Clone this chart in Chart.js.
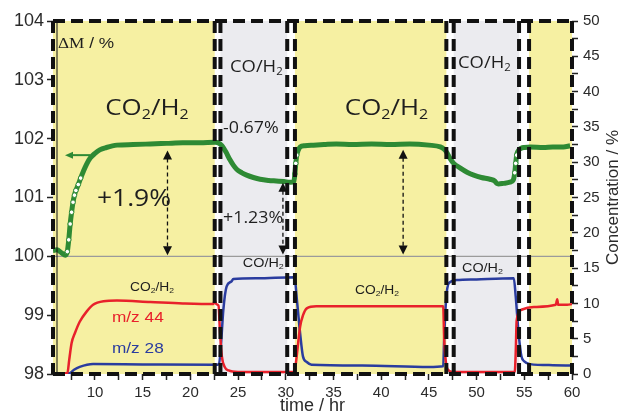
<!DOCTYPE html>
<html>
<head>
<meta charset="utf-8">
<script src="https://cdn.jsdelivr.net/npm/chart.js@4.4.1/dist/chart.umd.min.js"></script>
<style>
  html, body { margin: 0; padding: 0; background: #ffffff; }
  canvas { display: block; }
</style>
</head>
<body>
<canvas id="c" width="622" height="414"></canvas>
<script>
// Mass change ΔM (%) versus time (hr), left axis
const massTime = [5.6, 6.0, 6.5, 6.9, 7.1, 7.25, 7.4, 7.55, 7.7, 7.85, 8.0, 8.25, 8.5, 8.8, 9.1, 9.5, 10.0, 10.5, 11.2, 12.3, 14.0, 15.8, 17.5, 19.2, 21.0, 22.6,
  22.9, 23.3, 23.7, 24.15, 24.5, 24.85, 25.4, 25.9, 26.6, 27.3, 28.2, 29.0, 29.8, 30.5, 30.85, 30.95, 31.05, 31.15, 31.3, 31.5, 32.0, 32.9, 34.0, 35.3,
  37.0, 39.0, 41.0, 43.0, 45.0, 46.2, 46.6, 46.9, 47.2, 47.6, 48.3, 49.0, 49.7, 50.5, 51.4, 51.9, 52.1, 52.3, 52.8, 53.5, 53.85, 54.0, 54.1, 54.2,
  54.35, 54.5, 54.7, 55.0, 55.6, 57.0, 58.0, 59.1, 59.8];
const massValue = [100.10, 100.11, 100.06, 100.02, 100.08, 100.28, 100.55, 100.75, 100.92, 101.04, 101.12, 101.22, 101.33, 101.45, 101.56, 101.67, 101.75, 101.81, 101.85, 101.89, 101.90, 101.91, 101.92, 101.93, 101.93, 101.94,
  101.93, 101.88, 101.78, 101.64, 101.55, 101.48, 101.42, 101.38, 101.34, 101.31, 101.29, 101.28, 101.27, 101.26, 101.27, 101.40, 101.58, 101.72, 101.80, 101.86, 101.88, 101.89, 101.90, 101.91,
  101.90, 101.91, 101.90, 101.91, 101.89, 101.86, 101.82, 101.76, 101.67, 101.58, 101.50, 101.43, 101.38, 101.34, 101.31, 101.28, 101.24, 101.23, 101.24, 101.26, 101.30, 101.42, 101.58, 101.72,
  101.79, 101.82, 101.84, 101.85, 101.86, 101.85, 101.86, 101.86, 101.88];

// m/z 44 signal as concentration (%), right axis
const co2Time = [5.6, 7.1, 7.3, 7.55, 7.9, 8.4, 9.1, 9.8, 10.9, 12.3, 15.8, 19.2, 22.4, 22.55, 22.7, 22.95, 23.1, 23.3, 23.6, 24.0, 25.0, 30.9,
  31.1, 31.5, 31.8, 32.2, 33.2, 40.0, 46.5, 46.6, 46.8, 47.0, 47.5, 54.0, 54.1, 54.2, 54.7, 56.0, 58.3, 58.45, 58.55, 59.5, 60.0];
const co2Value = [0.1, 0.1, 2.0, 4.4, 5.8, 7.4, 8.8, 9.8, 10.3, 10.4, 10.2, 10.0, 9.9, 10.5, 9.9, 9.7, 6.0, 2.5, 1.0, 0.5, 0.3, 0.3,
  2.0, 6.7, 8.3, 9.3, 9.6, 9.6, 9.6, 5.0, 1.5, 0.6, 0.3, 0.3, 3.0, 7.6, 9.1, 9.5, 9.8, 10.6, 9.8, 9.8, 9.9];

// m/z 28 signal as concentration (%), right axis
const coTime = [5.6, 7.3, 7.8, 8.4, 9.8, 15.0, 22.6, 23.0, 23.2, 23.45, 23.8, 24.3, 24.5, 27.0, 30.9, 31.2, 31.5, 31.8, 32.2, 32.7,
  38.0, 45.0, 46.5, 46.6, 46.8, 47.1, 47.9, 50.0, 53.9, 54.1, 54.4, 54.7, 55.0, 55.6, 58.0, 60.0];
const coValue = [0.1, 0.1, 0.6, 1.0, 1.4, 1.35, 1.3, 1.4, 4.0, 9.0, 12.4, 13.1, 13.45, 13.55, 13.7, 10.0, 5.8, 2.5, 1.7, 1.3,
  1.2, 1.0, 1.1, 5.0, 10.5, 12.9, 13.3, 13.4, 13.55, 11.0, 5.8, 2.5, 1.8, 1.4, 1.25, 1.2];

// Gas feed periods and the switch times between them
const bandStart = [5.6, 23.15, 30.96, 47.6, 55.5];
const bandEnd = [22.55, 30.15, 46.83, 54.45, 60];
const bandGas = ['CO2', 'CO', 'CO2', 'CO', 'CO2'];
const switchTimes = [22.55, 23.15, 30.15, 30.96, 46.83, 47.6, 54.45, 55.5];

// Tick labels
const timeLabels = [10, 15, 20, 25, 30, 35, 40, 45, 50, 55, 60];
const massLabels = [98, 99, 100, 101, 102, 103, 104];
const concLabels = [0, 5, 10, 15, 20, 25, 30, 35, 40, 45, 50];

const pts = (xs, ys) => xs.map((x, i) => ({ x: x, y: ys[i] }));

const GREEN = '#2e8a34';
const RED = '#e8212b';
const BLUE = '#2a3c9f';
const TEXT = '#1e1e1e';
const SX = 1.15; // horizontal widening of the annotation lettering

// Annotation texts, positioned in data units (time, ΔM)
const notes = [
  { t: 6.12, v: 103.54, size: 15, align: 'left', color: TEXT, parts: [['ΔM', 0, 'Liberation Serif'], [' / %', 0, 'Liberation Sans']] },
  { t: 15.45, v: 102.40, size: 22.5, align: 'center', color: TEXT, fam: 'Open Sans', parts: [['CO'], ['2', 1], ['/H'], ['2', 1]] },
  { t: 40.56, v: 102.40, size: 22.5, align: 'center', color: TEXT, fam: 'Open Sans', parts: [['CO'], ['2', 1], ['/H'], ['2', 1]] },
  { t: 24.15, v: 103.13, size: 16, align: 'left', color: TEXT, fam: 'Open Sans', parts: [['CO/H'], ['2', 1]] },
  { t: 48.05, v: 103.20, size: 16, align: 'left', color: TEXT, fam: 'Open Sans', parts: [['CO/H'], ['2', 1]] },
  { t: 23.42, v: 102.10, size: 15.5, align: 'left', color: TEXT, fam: 'Open Sans', parts: [['-0.67%']] },
  { t: 10.2, v: 100.855, size: 23, align: 'left', color: TEXT, fam: 'Open Sans', parts: [['+1.9%']] },
  { t: 23.42, v: 100.57, size: 15.5, align: 'left', color: TEXT, fam: 'Open Sans', parts: [['+1.23%']] },
  { t: 13.67, v: 99.41, size: 12, align: 'left', color: TEXT, fam: 'Liberation Sans', parts: [['CO'], ['2', 1], ['/H'], ['2', 1]] },
  { t: 37.25, v: 99.36, size: 12, align: 'left', color: TEXT, fam: 'Liberation Sans', parts: [['CO'], ['2', 1], ['/H'], ['2', 1]] },
  { t: 25.5, v: 99.82, size: 12.5, align: 'left', color: TEXT, fam: 'Liberation Sans', parts: [['CO/H'], ['2', 1]] },
  { t: 48.47, v: 99.74, size: 12.5, align: 'left', color: TEXT, fam: 'Liberation Sans', parts: [['CO/H'], ['2', 1]] },
  { t: 11.78, v: 98.89, size: 15, align: 'left', color: RED, fam: 'Liberation Sans', parts: [['m/z 44']] },
  { t: 11.78, v: 98.35, size: 15, align: 'left', color: BLUE, fam: 'Liberation Sans', parts: [['m/z 28']] }
];

// Double-headed dashed arrows marking the mass changes
const arrows = [
  { t: 17.6, top: 101.80, bottom: 100.02 },
  { t: 29.7, top: 101.25, bottom: 100.03 },
  { t: 42.3, top: 101.81, bottom: 100.03 }
];
// Arrow pointing the mass curve to its (left) axis
const axisPointer = { from: 9.48, to: 6.86, v: 101.72 };

function drawRich(ctx, note, x, y) {
  ctx.save();
  ctx.translate(x, y);
  ctx.scale(SX, 1);
  ctx.fillStyle = note.color;
  ctx.textBaseline = 'alphabetic';
  ctx.textAlign = 'left';
  const fontOf = p => {
    const fam = p[2] || note.fam;
    const s = p[1] ? note.size * 0.62 : note.size;
    return s + 'px "' + fam + '"';
  };
  const widths = note.parts.map(p => { ctx.font = fontOf(p); return ctx.measureText(p[0]).width; });
  const total = widths.reduce((a, b) => a + b, 0);
  let cx = note.align === 'center' ? -total / 2 : 0;
  note.parts.forEach((p, i) => {
    ctx.font = fontOf(p);
    ctx.fillText(p[0], cx, p[1] ? note.size * 0.16 : 0);
    cx += widths[i];
  });
  ctx.restore();
}

function arrowHead(ctx, x, y, dir, len, half) {
  // dir: +1 points down, -1 points up (vertical); or 'left'
  ctx.beginPath();
  if (dir === 'left') {
    ctx.moveTo(x, y);
    ctx.lineTo(x + len, y - half);
    ctx.lineTo(x + len, y + half);
  } else {
    ctx.moveTo(x, y);
    ctx.lineTo(x - half, y - dir * len);
    ctx.lineTo(x + half, y - dir * len);
  }
  ctx.closePath();
  ctx.fill();
}

const decor = {
  id: 'decor',
  beforeDatasetsDraw(chart) {
    const { ctx, chartArea: a, scales } = chart;
    const x = scales.x, y = scales.y;
    ctx.save();
    ctx.fillStyle = '#ffffff';
    ctx.fillRect(a.left, a.top, a.right - a.left, a.bottom - a.top);
    bandStart.forEach((s, i) => {
      const x0 = x.getPixelForValue(s), x1 = x.getPixelForValue(bandEnd[i]);
      ctx.fillStyle = bandGas[i] === 'CO2' ? '#f6f0a2' : '#ebebef';
      ctx.fillRect(x0, a.top, x1 - x0, a.bottom - a.top);
    });
    // reference level ΔM = 100 %
    const y100 = y.getPixelForValue(100);
    ctx.strokeStyle = '#9b9b9b';
    ctx.lineWidth = 1.2;
    ctx.beginPath();
    ctx.moveTo(a.left, y100);
    ctx.lineTo(a.right, y100);
    ctx.stroke();
    ctx.restore();
  },
  afterDatasetsDraw(chart) {
    const { ctx, chartArea: a, scales } = chart;
    const x = scales.x, y = scales.y;
    ctx.save();
    // gas switch markers and dashed frame
    ctx.strokeStyle = '#111111';
    ctx.lineWidth = 4;
    ctx.setLineDash([12, 6]);
    switchTimes.forEach(t => {
      const px = x.getPixelForValue(t);
      ctx.beginPath();
      ctx.moveTo(px, a.top);
      ctx.lineTo(px, a.bottom);
      ctx.stroke();
    });
    ctx.beginPath();
    ctx.moveTo(a.left, a.top); ctx.lineTo(a.right, a.top);
    ctx.moveTo(a.left, a.bottom); ctx.lineTo(a.right, a.bottom);
    ctx.moveTo(a.left, a.top); ctx.lineTo(a.left, a.bottom);
    ctx.moveTo(a.right, a.top); ctx.lineTo(a.right, a.bottom);
    ctx.stroke();
    ctx.setLineDash([]);
    ctx.lineWidth = 1;
    ctx.beginPath();
    ctx.moveTo(a.left + 4, a.top);
    ctx.lineTo(a.left + 4, a.bottom);
    ctx.stroke();

    // dashed double arrows
    ctx.fillStyle = '#111111';
    ctx.strokeStyle = '#111111';
    arrows.forEach(ar => {
      const px = x.getPixelForValue(ar.t);
      const yt = y.getPixelForValue(ar.top), yb = y.getPixelForValue(ar.bottom);
      ctx.setLineDash([4, 3]);
      ctx.lineWidth = 1.3;
      ctx.beginPath();
      ctx.moveTo(px, yt + 8);
      ctx.lineTo(px, yb - 8);
      ctx.stroke();
      ctx.setLineDash([]);
      arrowHead(ctx, px, yt, -1, 9, 4.5);
      arrowHead(ctx, px, yb, 1, 9, 4.5);
    });

    // green pointer to the left axis
    const gx0 = x.getPixelForValue(axisPointer.from), gx1 = x.getPixelForValue(axisPointer.to);
    const gy = y.getPixelForValue(axisPointer.v);
    ctx.strokeStyle = GREEN;
    ctx.fillStyle = GREEN;
    ctx.lineWidth = 2;
    ctx.beginPath();
    ctx.moveTo(gx0, gy);
    ctx.lineTo(gx1 + 6, gy);
    ctx.stroke();
    arrowHead(ctx, gx1, gy, 'left', 8, 3.5);

    // texts
    notes.forEach(n => drawRich(ctx, n, x.getPixelForValue(n.t), y.getPixelForValue(n.v)));

    // right axis title, reading upwards
    const y1 = scales.y1;
    ctx.translate(613, (y1.top + y1.bottom) / 2);
    ctx.rotate(-Math.PI / 2);
    ctx.fillStyle = '#2b2b2b';
    ctx.font = '17px "Liberation Sans"';
    ctx.textAlign = 'center';
    ctx.textBaseline = 'middle';
    ctx.fillText('Concentration / %', 0, 0);
    ctx.restore();
  }
};

function steepRadius(c) {
  const d = c.dataset.data, i = c.dataIndex;
  if (i === 0 || i >= d.length - 1) return 0;
  const s = Math.abs((d[i + 1].y - d[i - 1].y) / (d[i + 1].x - d[i - 1].x));
  return s > 0.4 ? 2.3 : 0;
}

const tickGrid = { display: true, drawOnChartArea: false, drawTicks: true, tickLength: 6, tickColor: '#222222', tickWidth: 1.5 };

new Chart(document.getElementById('c'), {
  type: 'line',
  data: {
    datasets: [
      {
        label: 'm/z 44', data: pts(co2Time, co2Value), yAxisID: 'y1',
        borderColor: RED, borderWidth: 2.5, pointRadius: 0, cubicInterpolationMode: 'monotone'
      },
      {
        label: 'm/z 28', data: pts(coTime, coValue), yAxisID: 'y1',
        borderColor: BLUE, borderWidth: 2.5, pointRadius: 0, cubicInterpolationMode: 'monotone'
      },
      {
        label: 'ΔM', data: pts(massTime, massValue), yAxisID: 'y',
        borderColor: GREEN, borderWidth: 5, cubicInterpolationMode: 'monotone',
        pointRadius: steepRadius, pointBackgroundColor: '#ffffff', pointBorderColor: GREEN, pointBorderWidth: 1
      }
    ]
  },
  options: {
    responsive: false,
    devicePixelRatio: 1,
    animation: false,
    events: [],
    layout: { padding: { top: 21, left: 0, right: 0, bottom: 0 } },
    plugins: { legend: { display: false }, tooltip: { enabled: false } },
    scales: {
      x: {
        type: 'linear', min: 5.6, max: 60,
        border: { display: false },
        grid: tickGrid,
        ticks: {
          stepSize: 2.5, includeBounds: false, autoSkip: false, maxRotation: 0, padding: 4,
          color: '#2b2b2b', font: { family: 'Liberation Sans', size: 15 },
          callback: v => timeLabels.includes(v) ? String(v) : ''
        },
        title: {
          display: true, text: 'time / hr', color: '#2b2b2b',
          font: { family: 'Liberation Sans', size: 18 }, padding: { top: 0, bottom: -3 }
        },
        afterFit: s => { s.height = 40; }
      },
      y: {
        type: 'linear', position: 'left', min: 98, max: 104,
        border: { display: false },
        grid: tickGrid,
        ticks: {
          stepSize: 1, padding: 3, color: '#2b2b2b', font: { family: 'Liberation Sans', size: 18 },
          callback: v => massLabels.includes(v) ? String(v) : ''
        },
        afterFit: s => { s.width = 53; }
      },
      y1: {
        type: 'linear', position: 'right', min: 0, max: 50,
        border: { display: false },
        grid: tickGrid,
        ticks: {
          stepSize: 2.5, autoSkip: false, padding: 5, color: '#2b2b2b', font: { family: 'Liberation Sans', size: 15 },
          callback: v => concLabels.includes(v) ? String(v) : ''
        },
        afterFit: s => { s.width = 50; }
      }
    }
  },
  plugins: [decor]
});
</script>
</body>
</html>
